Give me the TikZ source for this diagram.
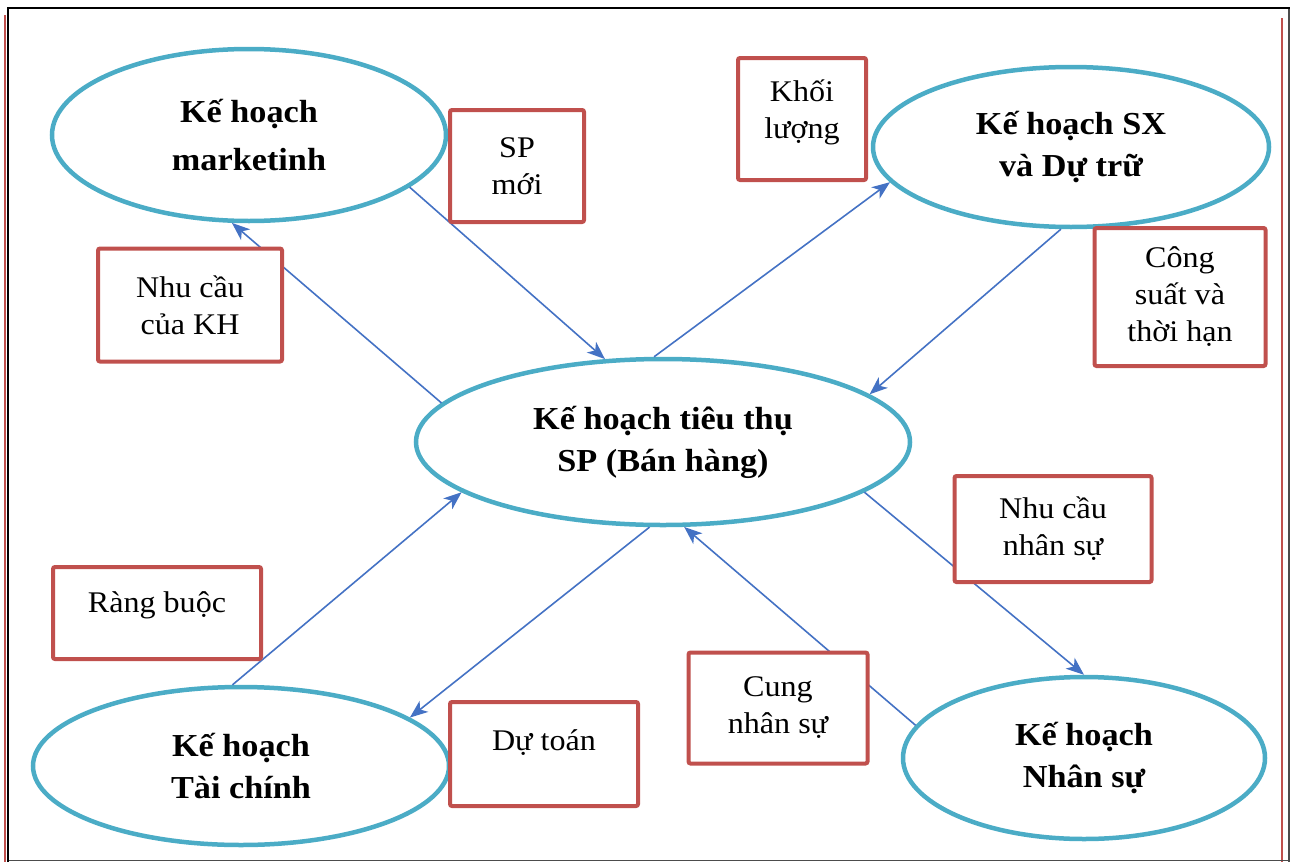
\documentclass[tikz,border=0pt]{standalone}
\usepackage{fontspec}
\setmainfont[FakeStretch=1.07]{Liberation Serif}
\usetikzlibrary{shapes.geometric,arrows.meta}
\definecolor{plancyan}{HTML}{4BACC6}
\definecolor{planred}{HTML}{C0504D}
\definecolor{planblue}{HTML}{4472C4}
\begin{document}
\begin{tikzpicture}[x=1pt,y=-1pt,
  plan/.style={ellipse, draw=plancyan, line width=4.5pt, fill=white, inner sep=0pt, align=center, font=\fontsize{32}{42}\selectfont\bfseries},
  note/.style={rectangle, rounded corners=2pt, draw=planred, line width=4pt, fill=white, align=center, font=\fontsize{30}{37}\selectfont},
  flow/.style={draw=planblue, line width=1.6pt, -{Stealth[length=18pt,width=14pt,inset=5pt]}}]
\useasboundingbox (0,0) rectangle (1290,862);
\draw[planred, line width=2pt] (4.5,15) -- (4.5,862);
\draw[planred, line width=2pt] (1282,18) -- (1282,862);
\draw[black!70, line width=1.5pt] (8,860.5) -- (1289,860.5);
\draw[black!70, line width=1.5pt] (1289,8) -- (1289,862);
\draw[black, line width=2pt] (8,862) -- (8,8) -- (1290,8);

\node[plan, minimum width=394, minimum height=172] (mk) at (249,135) {Kế hoạch\\[6pt]marketinh};
\node[plan, minimum width=396, minimum height=160] (sx) at (1071,147) {Kế hoạch SX\\và Dự trữ};
\node[plan, minimum width=494, minimum height=166] (ctr) at (663,442) {Kế hoạch tiêu thụ\\SP (Bán hàng)};
\node[plan, minimum width=416, minimum height=158] (tc) at (241,766) {Kế hoạch\\Tài chính};
\node[plan, minimum width=362, minimum height=162] (ns) at (1084,758) {Kế hoạch\\Nhân sự};

\draw[flow] (mk.-18) -- (ctr.125.5);
\draw[flow] (ctr.170.6) -- (mk.259.6);
\draw[flow] (ctr.96.7) -- (sx.191);
\draw[flow] (sx.263.7) -- (ctr.13.6);
\draw[flow] (ctr.-14) -- (ns.90.7);
\draw[flow] (ns.169.5) -- (ctr.-76.6);
\draw[flow] (ctr.261.9) -- (tc.16.5);
\draw[flow] (tc.96.5) -- (ctr.194);

\node[note, minimum width=134, minimum height=112] (spmoi) at (517,166) {SP\\mới};
\node[note, minimum width=128, minimum height=122, text depth=20pt] (khoiluong) at (802,119) {Khối\\lượng};
\node[note, minimum width=184, minimum height=113] (nhucaukh) at (190,305) {Nhu cầu\\của KH};
\node[note, minimum width=171, minimum height=138] (congsuat) at (1180,297) {Công\\suất và\\thời hạn};
\node[note, minimum width=197, minimum height=106] (nhucauns) at (1053,529) {Nhu cầu\\nhân sự};
\node[note, minimum width=208, minimum height=92, text height=22pt, text depth=24pt] (rangbuoc) at (157,613) {Ràng buộc};
\node[note, minimum width=179, minimum height=111] (cungns) at (778,708) {Cung\\nhân sự};
\node[note, minimum width=188, minimum height=104, text height=22pt, text depth=30pt] (dutoan) at (544,754) {Dự toán};
\end{tikzpicture}
\end{document}
